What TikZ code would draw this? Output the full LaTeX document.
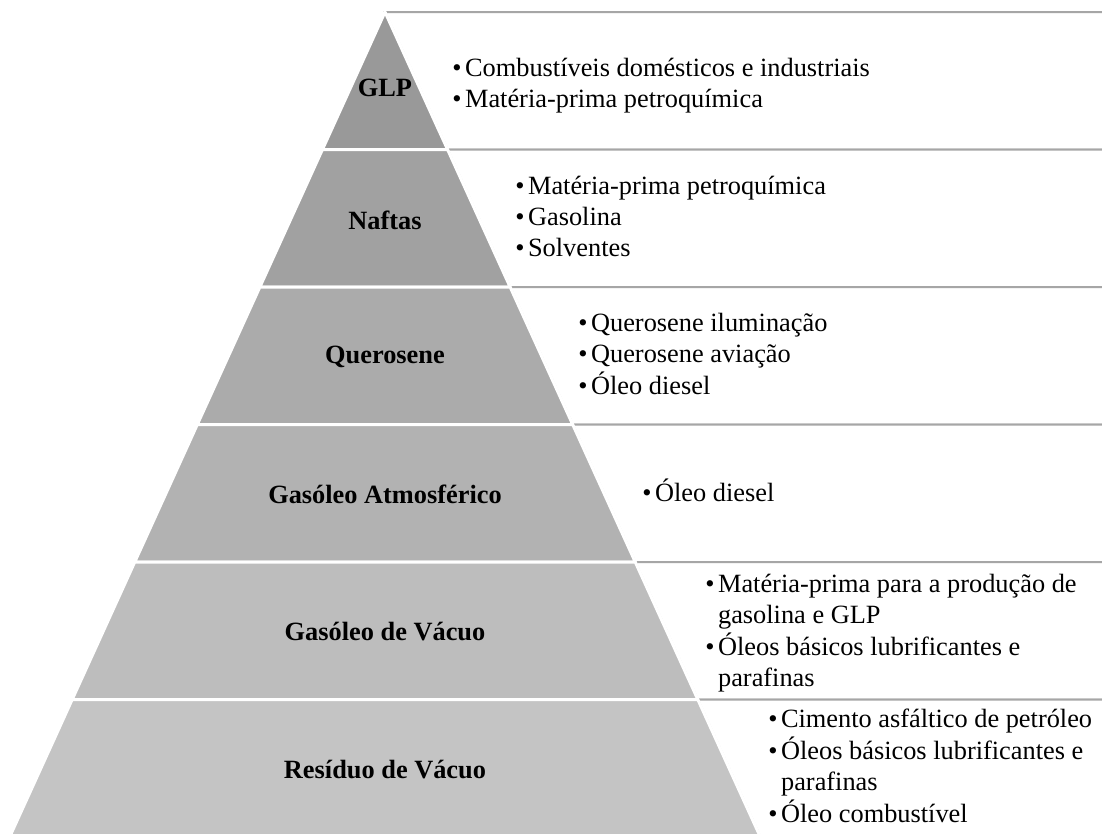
\documentclass[tikz,border=0pt]{standalone}
\usepackage{fontspec}
\setmainfont{Liberation Serif}

\tikzstyle{box} = [style={draw=black!35, fill=white, line width=0.04cm}]
\tikzstyle{lvl} = [style={draw=white, line width=0.06cm, line join=round}]
\tikzstyle{lbl} = [style={font=\fontsize{15}{17.6}\selectfont\bfseries}]
\tikzstyle{txt} = [style={anchor=west, inner sep=0pt, font=\fontsize{15}{17.6}\selectfont}]
\newcommand*{\apexx}{385}
\newcommand*{\ytop}{12}
\newcommand*{\lvlh}{137.5}
\newcommand*{\slope}{0.455}
\newcommand*{\bl}{\textbullet}

\begin{document}
\begin{tikzpicture}[x=0.02cm, y=-0.02cm]
\useasboundingbox (0,0) rectangle (1102,833);
\clip (0,0) rectangle (1102,833);

%% text boxes
\foreach \i in {0,...,5}
  {
  \pgfmathsetmacro{\yt}{\ytop+\lvlh*\i}
  \pgfmathsetmacro{\yb}{\yt+\lvlh}
  \pgfmathsetmacro{\wt}{\slope*(\yt-\ytop)}
  \pgfmathsetmacro{\wb}{\slope*(\yb-\ytop)}
  \draw [box] (\apexx+\wt,\yt) -- (1120,\yt) -- (1120,\yb) -- (\apexx+\wb,\yb) -- cycle;
  }

%% pyramid
\foreach \i/\c in {0/40,1/37,2/33,3/30,4/26,5/23}
  {
  \pgfmathsetmacro{\yt}{\ytop+\lvlh*\i}
  \pgfmathsetmacro{\yb}{\yt+\lvlh}
  \pgfmathsetmacro{\wt}{\slope*(\yt-\ytop)}
  \pgfmathsetmacro{\wb}{\slope*(\yb-\ytop)}
  \filldraw [lvl, fill=black!\c] (\apexx-\wt,\yt) -- (\apexx+\wt,\yt) -- (\apexx+\wb,\yb) -- (\apexx-\wb,\yb) -- cycle;
  }

%% level names
\foreach \n/\y/\t in {glp/88/GLP, naf/220/Naftas, que/357/Querosene, gat/494/Gasóleo Atmosférico, gva/632/Gasóleo de Vácuo, rva/770/Resíduo de Vácuo}
  {\node [lbl] (\n) at (\apexx,\y) {\t};}

%% uses
\node [txt] (uglp) at (452,86) {\begin{tabular}{@{}l@{\hspace{2pt}}l@{}}
\bl & Combustíveis domésticos e industriais\\
\bl & Matéria-prima petroquímica
\end{tabular}};

\node [txt] (unaf) at (515,219) {\begin{tabular}{@{}l@{\hspace{2pt}}l@{}}
\bl & Matéria-prima petroquímica\\
\bl & Gasolina\\
\bl & Solventes
\end{tabular}};

\node [txt] (uque) at (578,357) {\begin{tabular}{@{}l@{\hspace{2pt}}l@{}}
\bl & Querosene iluminação\\
\bl & Querosene aviação\\
\bl & Óleo diesel
\end{tabular}};

\node [txt] (ugat) at (642,495) {\begin{tabular}{@{}l@{\hspace{2pt}}l@{}}
\bl & Óleo diesel
\end{tabular}};

\node [txt] (ugva) at (705,633) {\begin{tabular}{@{}l@{\hspace{2pt}}l@{}}
\bl & Matéria-prima para a produção de\\
 & gasolina e GLP\\
\bl & Óleos básicos lubrificantes e\\
 & parafinas
\end{tabular}};

\node [txt] (urva) at (768,769) {\begin{tabular}{@{}l@{\hspace{2pt}}l@{}}
\bl & Cimento asfáltico de petróleo\\
\bl & Óleos básicos lubrificantes e\\
 & parafinas\\
\bl & Óleo combustível
\end{tabular}};

\end{tikzpicture}
\end{document}
